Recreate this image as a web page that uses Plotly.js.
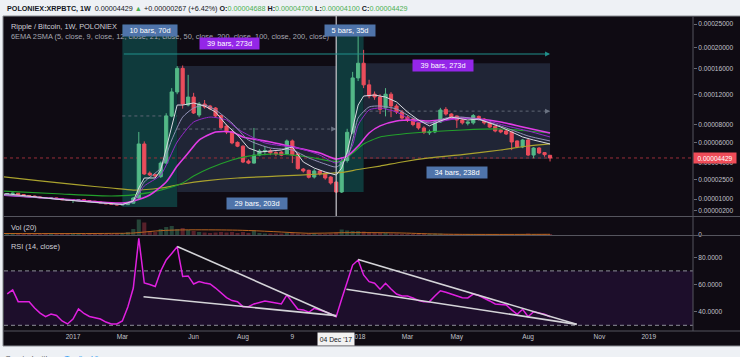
<!DOCTYPE html>
<html><head><meta charset="utf-8">
<script src="https://cdn.plot.ly/plotly-3.0.1.min.js"></script>
<style>html,body{margin:0;padding:0;background:#eef1f5;}#chart{width:740px;height:357px;}</style>
</head><body><div id="chart"></div>
<script>
// ---------- data (prices in units of 1e-5 BTC) ----------
const weeks = ['2016-10-10','2016-10-17','2016-10-24','2016-10-31','2016-11-07','2016-11-14','2016-11-21','2016-11-28','2016-12-05','2016-12-12','2016-12-19','2016-12-26',
'2017-01-02','2017-01-09','2017-01-16','2017-01-23','2017-01-30','2017-02-06','2017-02-13','2017-02-20','2017-02-27','2017-03-06','2017-03-13','2017-03-20','2017-03-27','2017-04-03','2017-04-10','2017-04-17','2017-04-24','2017-05-01','2017-05-08','2017-05-15','2017-05-22','2017-05-29','2017-06-05','2017-06-12','2017-06-19','2017-06-26','2017-07-03','2017-07-10','2017-07-17','2017-07-24','2017-07-31','2017-08-07','2017-08-14','2017-08-21','2017-08-28','2017-09-04','2017-09-11','2017-09-18','2017-09-25','2017-10-02','2017-10-09','2017-10-16','2017-10-23','2017-10-30','2017-11-06','2017-11-13','2017-11-20','2017-11-27','2017-12-04','2017-12-11','2017-12-18','2017-12-25',
'2018-01-01','2018-01-08','2018-01-15','2018-01-22','2018-01-29','2018-02-05','2018-02-12','2018-02-19','2018-02-26','2018-03-05','2018-03-12','2018-03-19','2018-03-26','2018-04-02','2018-04-09','2018-04-16','2018-04-23','2018-04-30','2018-05-07','2018-05-14','2018-05-21','2018-05-28','2018-06-04','2018-06-11','2018-06-18','2018-06-25','2018-07-02','2018-07-09','2018-07-16','2018-07-23','2018-07-30','2018-08-06','2018-08-13','2018-08-20','2018-08-27','2018-09-03'];

const openE5 = [1.36,1.40,1.43,1.33,1.25,1.22,1.15,1.10,1.05,1.08, 1.02,0.95,0.90,0.93,0.96,0.88,0.84,0.78,0.72,0.66, 0.62,0.58,0.60,0.70,1.07,5.83,3.05,2.92,2.75,3.95, 9.05,12.33,16.10,10.48,11.59,9.17,10.62,10.35,10.08,9.10, 7.82,7.14,6.00,5.60,4.14,3.95,4.71,5.05,5.11,4.96, 5.00,4.81,6.15,4.81,3.41,3.30,2.72,3.24,3.07,2.72, 2.30,1.52,4.20,7.10,14.50,17.00,13.40,12.00,11.60,10.10, 12.00,10.35,9.56,8.90,8.67,8.20,7.60,7.05,7.14,8.30, 9.90,9.30,9.05,8.55,8.15,8.20,9.00,8.67,8.20,7.80, 7.37,7.25,7.14,6.15,5.52,6.25,4.71,5.41,4.95,4.688];
const highE5 = [1.45,1.48,1.45,1.36,1.29,1.25,1.18,1.13,1.12,1.10, 1.04,0.98,0.97,1.00,0.98,0.90,0.86,0.80,0.74,0.68, 0.64,0.63,0.74,1.15,7.14,6.10,3.20,3.00,4.10,9.40, 12.90,16.50,16.60,15.00,12.20,10.90,11.17,10.50,10.20,9.20, 8.00,7.30,6.10,5.70,4.30,7.60,5.30,5.60,5.30,5.10, 5.10,6.30,6.30,4.90,3.50,3.35,3.40,3.30,3.10,2.80, 2.40,4.50,7.50,15.50,23.00,19.50,14.20,12.40,12.00,12.90, 12.30,10.60,9.80,9.10,8.80,8.30,7.80,7.40,8.50,10.10, 10.20,9.40,9.10,8.70,8.40,9.30,9.10,8.80,8.30,7.90, 7.50,7.40,7.20,6.20,6.35,6.40,5.50,5.50,5.00,4.700];
const lowE5 = [1.33,1.37,1.30,1.22,1.18,1.12,1.07,1.02,1.03,0.99, 0.92,0.86,0.72,0.90,0.86,0.82,0.76,0.70,0.64,0.60, 0.55,0.56,0.58,0.68,1.00,2.90,2.80,2.70,2.65,3.85, 8.90,12.00,10.00,10.30,9.30,8.90,10.00,9.80,8.90,7.50, 6.90,5.80,5.50,3.95,3.85,3.90,4.60,4.70,4.70,4.60, 4.60,4.70,3.95,3.35,3.10,2.60,2.60,2.85,2.50,2.10, 1.45,1.45,4.00,6.90,14.00,12.90,11.40,11.20,9.30,9.00, 8.90,9.30,8.60,8.30,7.80,7.40,6.90,6.80,7.00,8.20, 9.10,8.80,7.60,8.00,7.90,8.00,8.50,8.00,7.60,7.10, 7.00,6.80,5.20,5.40,5.40,4.60,4.40,4.80,4.55,4.100];
const closeE5 = [1.40,1.43,1.33,1.25,1.22,1.15,1.10,1.05,1.08,1.02, 0.95,0.90,0.93,0.96,0.88,0.84,0.78,0.72,0.66,0.62, 0.58,0.60,0.70,1.07,5.83,2.98,2.90,2.80,3.95,9.05, 12.33,16.10,10.62,11.59,9.43,10.62,10.22,10.00,9.05,7.65, 7.14,5.94,5.60,4.05,3.95,4.71,5.11,5.15,4.92,4.81, 4.70,6.15,4.71,3.45,3.24,2.70,3.24,2.98,2.64,2.23, 1.52,4.10,7.10,14.50,17.00,13.40,11.74,11.60,9.90,12.00, 10.35,9.56,8.79,8.55,8.00,7.60,7.08,7.14,8.30,9.82, 9.30,8.90,8.55,8.20,8.30,9.10,8.60,8.20,7.70,7.25, 7.14,6.91,6.04,5.52,6.25,4.71,5.41,4.91,4.75,4.429];

const volumeBTC = [2000,2000,1500,2000,1500,1500,1000,1500,1000,1000,1500,1500,2000,1500,1000,1000,1000,1500,1000,1000,1500,
2000,3000,6000,15500,12500,4000,3000,6000,8000,9000,6000,7000,5000,4000,3000,
2500,2000,2500,3000,2500,3000,2000,3000,2000,4500,2000,1500,1500,1500,1500,
2000,2000,1500,1000,1500,1500,1000,1000,1500,2500,5500,4500,4000,4000,3500,
2500,2000,2000,2000,1500,1500,1000,1000,1000,1500,1000,1000,1500,1500,1000,
1000,1000,1000,1000,1000,1000,1000,1000,1000,1000,1000,1000,1000,1000,1500,1000,1000,1000,1000];
const volMaDates = ['2016-10-03','2017-02-20','2017-03-20','2017-04-17','2017-05-15','2017-07-17','2017-08-14','2017-09-25','2017-10-30','2017-12-11','2018-01-29','2018-02-26','2018-04-23','2018-09-03'];
const volMa = [1500,1600,2000,4000,5000,5000,4500,3000,1700,2300,2300,2000,800,700];

const ema5Dates = ['2016-10-03','2016-10-10','2016-12-19','2017-03-06','2017-03-20','2017-03-27','2017-04-03','2017-04-17','2017-04-24','2017-05-01','2017-05-08','2017-05-15','2017-05-22','2017-06-05','2017-06-19','2017-07-03','2017-07-17','2017-07-31','2017-08-14','2017-08-28','2017-09-11','2017-09-25','2017-10-09','2017-10-23','2017-11-06','2017-11-20','2017-12-04','2017-12-11','2017-12-18','2017-12-25','2018-01-01','2018-01-08','2018-01-22','2018-02-05','2018-02-19','2018-03-05','2018-03-19','2018-04-02','2018-04-16','2018-04-30','2018-05-21','2018-06-04','2018-06-18','2018-07-02','2018-07-16','2018-07-30','2018-08-13','2018-09-03'];
const ema5E5 = [1.35,1.38,0.95,0.61,0.85,1.83,2.64,2.64,3.33,5.41,7.94,10.48,10.48,10.76,10.35,9.56,7.94,6.80,5.41,5.01,5.11,5.21,5.52,4.05,3.50,3.15,2.89,3.50,5.01,7.60,10.48,11.74,11.88,11.59,10.90,9.56,8.55,7.84,8.43,8.91,8.55,8.67,8.18,7.71,7.14,6.58,6.25,5.83];
const ema9Dates = ['2016-10-03','2016-12-19','2017-03-06','2017-03-20','2017-04-03','2017-04-24','2017-05-08','2017-05-22','2017-06-05','2017-06-19','2017-07-03','2017-07-24','2017-08-14','2017-09-11','2017-10-09','2017-10-30','2017-11-20','2017-12-04','2017-12-18','2017-12-25','2018-01-01','2018-01-15','2018-01-29','2018-02-19','2018-03-12','2018-04-02','2018-04-23','2018-05-14','2018-06-11','2018-07-09','2018-08-06','2018-09-03'];
const ema9E5 = [1.32,0.96,0.63,0.82,2.31,3.50,6.25,8.91,10.08,10.48,9.82,8.18,6.25,5.41,5.21,4.43,3.86,3.59,4.43,6.25,8.79,10.22,10.35,9.95,8.79,8.18,8.79,8.91,8.43,7.60,6.69,6.15];
const ema12Dates = ['2016-10-03','2016-12-19','2017-03-06','2017-03-20','2017-04-03','2017-04-24','2017-05-15','2017-06-05','2017-06-26','2017-07-17','2017-07-31','2017-09-04','2017-10-16','2017-11-13','2017-12-04','2017-12-18','2017-12-25','2018-01-01','2018-01-15','2018-01-29','2018-02-19','2018-03-12','2018-04-02','2018-05-14','2018-06-11','2018-07-09','2018-08-06','2018-09-03'];
const ema12E5 = [1.30,0.97,0.64,0.80,1.99,2.89,6.04,8.30,8.91,8.55,7.48,5.94,5.41,4.71,3.95,4.71,5.72,7.94,9.82,10.08,9.56,8.43,8.18,8.79,8.55,7.84,7.25,6.58];
const ema21Dates = ['2016-10-03','2016-12-19','2017-03-06','2017-03-20','2017-04-10','2017-05-01','2017-05-15','2017-05-29','2017-06-12','2017-07-03','2017-07-24','2017-08-07','2017-09-11','2017-10-16','2017-11-13','2017-12-04','2017-12-18','2018-01-01','2018-01-15','2018-01-29','2018-02-19','2018-03-12','2018-04-02','2018-05-14','2018-06-04','2018-07-02','2018-07-30','2018-09-03'];
const ema21E5 = [1.30,1.00,0.71,0.86,1.30,2.31,3.68,4.91,6.25,7.14,7.14,6.58,6.04,5.41,4.91,4.33,4.61,5.62,7.02,7.84,8.43,8.55,8.43,8.79,8.67,8.30,7.71,7.02];
const ema50Dates = ['2016-10-03','2016-12-19','2017-02-20','2017-03-20','2017-04-24','2017-05-22','2017-06-05','2017-06-26','2017-07-24','2017-08-14','2017-09-11','2017-10-09','2017-10-30','2017-11-27','2017-12-11','2017-12-25','2018-01-08','2018-01-29','2018-03-12','2018-05-14','2018-07-02','2018-08-06','2018-09-03'];
const ema50E5 = [1.60,1.37,1.22,1.30,1.67,2.23,2.81,3.50,4.24,4.61,4.81,4.71,4.52,4.14,4.14,4.91,5.83,6.58,7.02,7.36,7.48,7.25,7.02];
const ema200Dates = ['2016-10-03','2016-11-21','2017-01-09','2017-02-20','2017-03-20','2017-04-24','2017-05-22','2017-06-19','2017-07-31','2017-09-25','2017-11-13','2017-12-11','2018-01-01','2018-01-29','2018-02-26','2018-04-02','2018-05-14','2018-07-02','2018-08-06','2018-09-03'];
const ema200E5 = [2.75,2.40,2.07,1.83,1.67,1.83,2.15,2.40,2.64,2.81,2.98,3.11,3.37,3.68,4.05,4.43,4.76,5.21,5.62,5.83];

const rsi14 = [53.1,56.0,47.4,47.4,47.4,42.7,39.0,36.3,38.3,37.2, 33.2,31.0,34.6,42.0,38.7,36.5,35.7,34.6,32.4,31.0, 31.0,33.2,43.5,57.4,94.0,61.1,60.0,58.5,69.9,78.0, 82.8,87.8,65.9,66.3,60.4,62.1,61.1,60.4,57.4,53.8, 50.4,48.2,47.4,43.7,43.7,45.7,46.8,47.9,47.1,46.4, 45.7,52.3,47.4,41.8,41.3,39.6,42.5,41.3,40.0,38.3, 36.3,49.3,61.1,74.3,78.0,67.0,62.1,60.9,56.5,60.9, 56.7,53.0,51.5,51.5,50.1,48.2,47.4,47.4,51.5,55.4, 54.3,53.0,51.2,50.3,50.1,53.0,51.9,50.1,47.9,45.7, 45.1,44.9,41.3,38.1,41.8,36.3,40.0,39.0,38.1,36.3];

// RSI trendlines drawn on the chart (date, RSI)
const trendADates = ['2017-05-15','2017-12-04'], trendA = [88.0, 36.5];
const trendBDates = ['2017-04-02','2017-12-04'], trendB = [51.0, 37.1];
const trendCDates = ['2018-01-01','2018-10-07'], trendC = [78.4, 30.7];
const trendDDates = ['2017-12-17','2018-10-07'], trendD = [56.5, 30.7];

// date-range drawings (start, end, low, high in 1e-5 BTC)
const rangeStart = ['2017-03-06','2017-05-15','2017-12-04','2018-01-08'];
const rangeEnd   = ['2017-05-15','2017-12-04','2018-01-08','2018-09-03'];
const rangeLowE5 = [0.43, 1.52, 1.52, 4.33];
const rangeHighE5= [24.8, 16.5, 24.8, 17.0];
const rangeKind  = ['teal','gray','teal','gray'];
const arrowLineE5 = 18.7;
const lastPrice = 4.429e-5;

const priceTicks = [0.00025,0.0002,0.00016,0.00012,0.00008,0.00006,0.00004,0.000025,0.00001,0.000002];
const priceTickText = ['0.00025000','0.00020000','0.00016000','0.00012000','0.00008000','0.00006000','0.00004000','0.00002500','0.00001000','0.00000200'];
const timeTicks = ['2017-01-02','2017-03-06','2017-06-05','2017-08-07','2017-10-09','2018-01-01','2018-03-05','2018-05-07','2018-08-06','2018-11-05','2019-01-07'];
const timeTickText = ['2017','Mar','Jun','Aug','9','2018','Mar','May','Aug','Nov','2019'];
const rsiTicks = [80,60,40], rsiTickText = ['80.0000','60.0000','40.0000'];

// ---------- helpers ----------
const W = 740, H = 357;
const px = x => x / W;
const py = y => 1 - y / H;
const E5 = 1e-5;
const T = v => Math.log(v + 1e-4);          // price-scale transform used by the chart
const TE = a => a.map(v => T(v * E5));
const FONT = 'Liberation Sans, Arial, sans-serif';
const xRange = ['2016-10-05 22:00', '2019-03-04 12:00'];

const UP = '#53b987', DN = '#eb4d5c';

const traces = [];
traces.push({
  type: 'candlestick', x: weeks,
  open: TE(openE5), high: TE(highE5), low: TE(lowE5), close: TE(closeE5),
  xaxis: 'x', yaxis: 'y', whiskerwidth: 0, hoverinfo: 'skip', showlegend: false,
  increasing: {line: {color: UP, width: 1}, fillcolor: UP},
  decreasing: {line: {color: DN, width: 1}, fillcolor: DN}
});
function maLine(d, v, color, width, shape) {
  return {type: 'scatter', mode: 'lines', x: d, y: TE(v), xaxis: 'x', yaxis: 'y',
    line: {color: color, width: width, shape: shape || 'spline', smoothing: 0.6},
    hoverinfo: 'skip', showlegend: false};
}
traces.push(maLine(ema200Dates, ema200E5, '#aaa22e', 1.2));
traces.push(maLine(ema50Dates, ema50E5, '#23a02c', 1.2));
traces.push(maLine(ema21Dates, ema21E5, '#e23ce6', 1.6));
traces.push(maLine(ema12Dates, ema12E5, '#9428c8', 1));
traces.push(maLine(ema9Dates, ema9E5, '#9392b8', 1));
traces.push(maLine(ema5Dates, ema5E5, '#d8d8e0', 1, 'linear'));

// volume
traces.push({type: 'bar', x: weeks, y: volumeBTC, xaxis: 'x', yaxis: 'y2',
  marker: {color: closeE5.map((c, i) => c >= openE5[i] ? 'rgba(83,185,135,0.33)' : 'rgba(235,77,92,0.33)')},
  hoverinfo: 'skip', showlegend: false});
traces.push({type: 'scatter', mode: 'lines', x: volMaDates, y: volMa, xaxis: 'x', yaxis: 'y2',
  line: {color: '#b8641f', width: 1, shape: 'spline'}, hoverinfo: 'skip', showlegend: false});

// RSI
traces.push({type: 'scatter', mode: 'lines', x: weeks, y: rsi14, xaxis: 'x', yaxis: 'y3',
  line: {color: '#e020e0', width: 1.5}, hoverinfo: 'skip', showlegend: false});
[[trendADates, trendA], [trendBDates, trendB], [trendCDates, trendC], [trendDDates, trendD]].forEach(([d, v]) => {
  traces.push({type: 'scatter', mode: 'lines', x: d, y: v, xaxis: 'x', yaxis: 'y3',
    line: {color: '#d4d4d8', width: 1.6}, hoverinfo: 'skip', showlegend: false});
});

// ---------- shapes ----------
const shapes = [];
// dark chart frame
shapes.push({type: 'rect', xref: 'paper', yref: 'paper', x0: px(3), x1: 1.01, y0: py(346), y1: py(16),
  fillcolor: '#0f0b13', line: {color: '#8a8d93', width: 1}, layer: 'below'});
// RSI band + levels
shapes.push({type: 'rect', xref: 'paper', yref: 'y3', x0: px(4), x1: px(693), y0: 30, y1: 70,
  fillcolor: '#1d0e2b', line: {width: 0}, layer: 'below'});
[70, 30].forEach(v => shapes.push({type: 'line', xref: 'paper', yref: 'y3', x0: px(4), x1: px(693), y0: v, y1: v,
  line: {color: '#8e8e99', width: 1, dash: '4px,3px'}, layer: 'below'}));
// date-range boxes
rangeStart.forEach((s, i) => {
  const teal = rangeKind[i] === 'teal';
  shapes.push({type: 'rect', xref: 'x', yref: 'y', x0: s, x1: rangeEnd[i],
    y0: T(rangeLowE5[i] * E5), y1: T(rangeHighE5[i] * E5),
    fillcolor: teal ? '#0f3a3c' : '#202536', line: {width: 0}, layer: 'below'});
});
// dashed middle arrows of the gray/teal boxes
[0, 1, 3].forEach(i => {
  const mid = (T(rangeLowE5[i] * E5) + T(rangeHighE5[i] * E5)) / 2;
  shapes.push({type: 'line', xref: 'x', yref: 'y', x0: rangeStart[i], x1: rangeEnd[i], y0: mid, y1: mid,
    line: {color: '#5e6675', width: 1, dash: '3px,3px'}, layer: 'below'});
});
// last price line
shapes.push({type: 'line', xref: 'x', yref: 'y', x0: xRange[0], x1: xRange[1], y0: T(lastPrice), y1: T(lastPrice),
  line: {color: '#9a2f3a', width: 1, dash: 'dot'}, layer: 'below'});
// crosshair
shapes.push({type: 'line', xref: 'x', yref: 'paper', x0: '2017-12-04', x1: '2017-12-04', y0: py(216), y1: py(16),
  line: {color: '#c9c9cf', width: 1.2}, layer: 'above'});
// pane separators and price-axis border
[216.5, 235.5, 331].forEach(y => shapes.push({type: 'line', xref: 'paper', yref: 'paper', x0: px(3.5), x1: 1,
  y0: py(y), y1: py(y), line: {color: '#55555e', width: 1}, layer: 'above'}));
shapes.push({type: 'line', xref: 'paper', yref: 'paper', x0: px(693), x1: px(693), y0: py(331), y1: py(16),
  line: {color: '#55555e', width: 1}, layer: 'above'});

// ---------- annotations ----------
const ann = [];
const G = '#4caf50';
ann.push({xref: 'paper', yref: 'paper', x: px(5), y: py(8), xanchor: 'left', yanchor: 'middle', showarrow: false,
  font: {family: FONT, size: 7.2, color: '#131722'},
  text: '<b>POLONIEX:XRPBTC, 1W</b>  0.00004429 <span style="color:' + G + '">▲</span> +0.00000267 (+6.42%) ' +
    '<b>O:</b><span style="color:' + G + '">0.00004688</span> <b>H:</b><span style="color:' + G + '">0.00004700</span> ' +
    '<b>L:</b><span style="color:' + G + '">0.00004100</span> <b>C:</b><span style="color:' + G + '">0.00004429</span>'});
ann.push({xref: 'paper', yref: 'paper', x: px(9), y: py(26.5), xanchor: 'left', yanchor: 'middle', showarrow: false,
  font: {family: FONT, size: 7.4, color: '#cfd0d8'}, text: 'Ripple / Bitcoin, 1W, POLONIEX'});
ann.push({xref: 'paper', yref: 'paper', x: px(9), y: py(36.7), xanchor: 'left', yanchor: 'middle', showarrow: false,
  font: {family: FONT, size: 7.4, color: '#a6a7b0'},
  text: '6EMA 2SMA (5, close, 9, close, 12, close, 21, close, 50, close, 200, close, 100, close, 200, close)'});
ann.push({xref: 'paper', yref: 'paper', x: px(9), y: py(227), xanchor: 'left', yanchor: 'middle', showarrow: false,
  font: {family: FONT, size: 7.4, color: '#cfd0d8'}, text: 'Vol (20)'});
ann.push({xref: 'paper', yref: 'paper', x: px(9), y: py(246.5), xanchor: 'left', yanchor: 'middle', showarrow: false,
  font: {family: FONT, size: 7.4, color: '#cfd0d8'}, text: 'RSI (14, close)'});
ann.push({xref: 'paper', yref: 'paper', x: px(3), y: py(352), xanchor: 'left', yanchor: 'top', showarrow: false,
  font: {family: FONT, size: 8, color: '#555'}, text: 'Created with  <span style="color:#2196f3">☁ TradingView</span>'});

function tag(text, xDate, yPx, w, bg) {
  return {xref: 'x', yref: 'paper', x: xDate, y: py(yPx), xanchor: 'center', yanchor: 'middle', showarrow: false,
    width: w, height: 11, bgcolor: bg, borderpad: 0, font: {family: FONT, size: 7.4, color: '#ffffff'}, text: text};
}
const BLUE = '#4f74aa', PURP = '#9426e8';
ann.push(tag('10 bars, 70d', '2017-04-10', 30.5, 54, BLUE));
ann.push(tag('39 bars, 273d', '2017-07-20 12:00', 43, 59, PURP));
ann.push(tag('29 bars, 203d', '2017-08-24 12:00', 203, 60, BLUE));
ann.push(tag('5 bars, 35d', '2017-12-21 12:00', 30.5, 50, BLUE));
ann.push(tag('39 bars, 273d', '2018-04-19 12:00', 65, 60, PURP));
ann.push(tag('34 bars, 238d', '2018-05-07', 172.5, 60, BLUE));
// long teal arrow
ann.push({xref: 'x', yref: 'y', axref: 'x', ayref: 'y', x: '2018-09-03', y: T(arrowLineE5 * E5),
  ax: '2017-03-06', ay: T(arrowLineE5 * E5), text: '', showarrow: true, arrowhead: 2, arrowsize: 1,
  arrowwidth: 1, arrowcolor: '#21908b'});
// small arrowheads of dashed lines
[1, 3].forEach(i => {
  const mid = (T(rangeLowE5[i] * E5) + T(rangeHighE5[i] * E5)) / 2;
  ann.push({xref: 'x', yref: 'y', x: rangeEnd[i], y: mid, ax: -6, ay: 0, text: '', showarrow: true,
    arrowhead: 2, arrowsize: 1, arrowwidth: 1, arrowcolor: '#6b7383'});
});
// last price tag
ann.push({xref: 'paper', yref: 'y', x: px(693), y: T(lastPrice), xanchor: 'left', yanchor: 'middle', showarrow: false,
  width: 42, height: 10, bgcolor: '#ef4c58', borderpad: 0, font: {family: FONT, size: 6.6, color: '#ffffff'}, text: '0.00004429'});
// crosshair date tag
ann.push({xref: 'x', yref: 'paper', x: '2017-12-04', y: py(339), xanchor: 'center', yanchor: 'middle', showarrow: false,
  width: 36, height: 12, bgcolor: '#f2f2f2', borderpad: 0, font: {family: FONT, size: 6.8, color: '#131722'}, text: "04 Dec '17"});

const axisFont = {family: FONT, size: 6.6, color: '#c0c2ca'};
const layout = {
  width: W, height: H, margin: {l: 0, r: 0, t: 0, b: 0, pad: 0}, autosize: false,
  paper_bgcolor: '#eef1f5', plot_bgcolor: 'rgba(0,0,0,0)', showlegend: false, hovermode: false,
  font: {family: FONT}, boxgap: 0.28, boxgroupgap: 0.2, bargap: 0.25,
  xaxis: {type: 'date', domain: [px(4), px(693)], range: xRange, anchor: 'y3',
    rangeslider: {visible: false}, showgrid: false, zeroline: false, showline: false,
    tickmode: 'array', tickvals: timeTicks, ticktext: timeTickText, ticks: '', tickfont: axisFont},
  yaxis: {domain: [py(216), py(16)], range: [-9.22742, -7.904667], anchor: 'x', side: 'right',
    showgrid: false, zeroline: false, showline: false, tickmode: 'array', tickvals: priceTicks.map(T),
    ticktext: priceTickText, ticks: 'outside', ticklen: 3, tickcolor: '#6a6a72', tickfont: axisFont},
  yaxis2: {domain: [py(235), py(217)], range: [0, 18000], anchor: 'x', side: 'right',
    showgrid: false, zeroline: false, showline: false, tickmode: 'array', tickvals: [0], ticktext: ['0'],
    ticks: 'outside', ticklen: 3, tickcolor: '#6a6a72', tickfont: axisFont},
  yaxis3: {domain: [py(331), py(236)], range: [25.81, 95.66], anchor: 'x', side: 'right',
    showgrid: false, zeroline: false, showline: false, tickmode: 'array', tickvals: rsiTicks, ticktext: rsiTickText,
    ticks: 'outside', ticklen: 3, tickcolor: '#6a6a72', tickfont: axisFont},
  shapes: shapes, annotations: ann
};
Plotly.newPlot('chart', traces, layout, {staticPlot: true, displayModeBar: false});
</script>
</body></html>
